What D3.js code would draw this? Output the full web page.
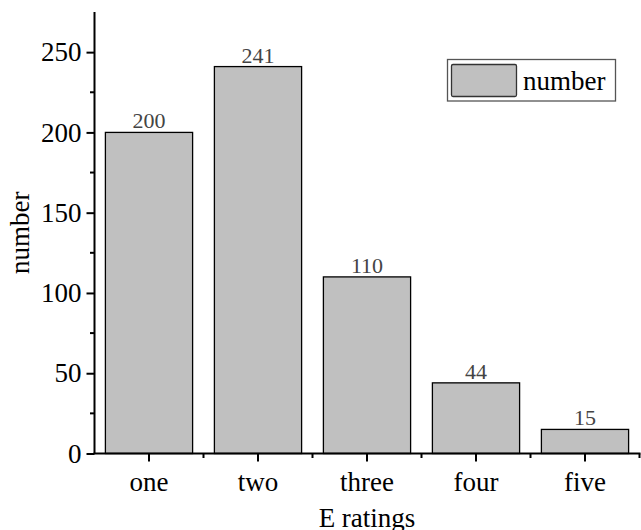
<!DOCTYPE html>
<html><head><meta charset="utf-8">
<script src="https://cdn.jsdelivr.net/npm/d3@7"></script>
<style>
html,body{margin:0;padding:0;background:#fff;}
svg{display:block;font-family:"Liberation Serif","Times New Roman",serif;}
</style></head>
<body>
<svg id="chart" width="641" height="530"></svg>
<script>
const categories = ["one","two","three","four","five"];
const values = [200, 241, 110, 44, 15];
const yTicks = [0, 50, 100, 150, 200, 250];
const seriesName = "number";
const xTitle = "E ratings";
const yTitle = "number";

const svg = d3.select("#chart");
const pL = 94.5, pR = 639.5, pT = 12, pB = 453.5;

const x = d3.scaleBand().domain(categories).range([pL, pR]).paddingInner(0.2).paddingOuter(0.1);
const y = d3.scaleLinear().domain([0, 275]).range([pB, pT]);

// bars
svg.append("g").selectAll("rect").data(values).join("rect")
  .attr("x", (d,i) => x(categories[i]))
  .attr("y", d => y(d))
  .attr("width", x.bandwidth())
  .attr("height", d => y(0) - y(d))
  .attr("fill", "#c0c0c0")
  .attr("stroke", "#000")
  .attr("stroke-width", 1.3);

// value labels
svg.append("g").selectAll("text").data(values).join("text")
  .attr("x", (d,i) => x(categories[i]) + x.bandwidth()/2)
  .attr("y", d => y(d) - 4)
  .attr("text-anchor", "middle")
  .attr("font-size", 22)
  .attr("fill", "#444")
  .text(d => d);

// y axis
const yAxis = svg.append("g").attr("transform", `translate(${pL},0)`)
  .call(d3.axisLeft(y).tickValues(yTicks).tickSize(8).tickPadding(5).tickSizeOuter(0));
yAxis.select(".domain").attr("stroke", "#000").attr("stroke-width", 2)
  .attr("d", `M0,${pT}V${pB}`);
yAxis.selectAll(".tick line").attr("stroke-width", 2);
yAxis.selectAll(".tick text").attr("font-size", 27).attr("fill", "#000")
  .attr("font-family", "Liberation Serif");
const yMinor = d3.range(25, 275, 50);
yAxis.append("g").selectAll("line").data(yMinor).join("line")
  .attr("x1", 0).attr("x2", -4.5)
  .attr("y1", d => y(d)).attr("y2", d => y(d))
  .attr("stroke", "#000").attr("stroke-width", 2);

// x axis
const xAxis = svg.append("g").attr("transform", `translate(0,${pB})`)
  .call(d3.axisBottom(x).tickSize(8).tickPadding(10).tickSizeOuter(0));
xAxis.select(".domain").attr("stroke", "#000").attr("stroke-width", 2)
  .attr("d", `M${pL - 1},0H${pR + 1}`);
xAxis.selectAll(".tick line").attr("stroke-width", 2);
xAxis.selectAll(".tick text").attr("font-size", 27).attr("fill", "#000")
  .attr("font-family", "Liberation Serif");
const bounds = categories.map(c => x(c) - x.step()*x.paddingInner()/2).slice(1);
bounds.push(pR);
xAxis.append("g").selectAll("line").data(bounds).join("line")
  .attr("x1", d => d).attr("x2", d => d)
  .attr("y1", 0).attr("y2", 4.5)
  .attr("stroke", "#000").attr("stroke-width", 2);

// axis titles
svg.append("text")
  .attr("x", (pL + pR)/2).attr("y", 527)
  .attr("text-anchor", "middle").attr("font-size", 27)
  .text(xTitle);
svg.append("text")
  .attr("transform", `translate(29,${(pT+pB)/2}) rotate(-90)`)
  .attr("text-anchor", "middle").attr("font-size", 27)
  .text(yTitle);

// legend
const lg = svg.append("g");
lg.append("rect").attr("x", 447.5).attr("y", 59.5).attr("width", 168).attr("height", 41.5)
  .attr("fill", "#fff").attr("stroke", "#555").attr("stroke-width", 1.3);
lg.append("rect").attr("x", 451.5).attr("y", 64.5).attr("width", 65).attr("height", 32)
  .attr("rx", 1.5)
  .attr("fill", "#c0c0c0").attr("stroke", "#333").attr("stroke-width", 1.3);
lg.append("text").attr("x", 523).attr("y", 90).attr("font-size", 27).text(seriesName);
</script>
</body></html>
